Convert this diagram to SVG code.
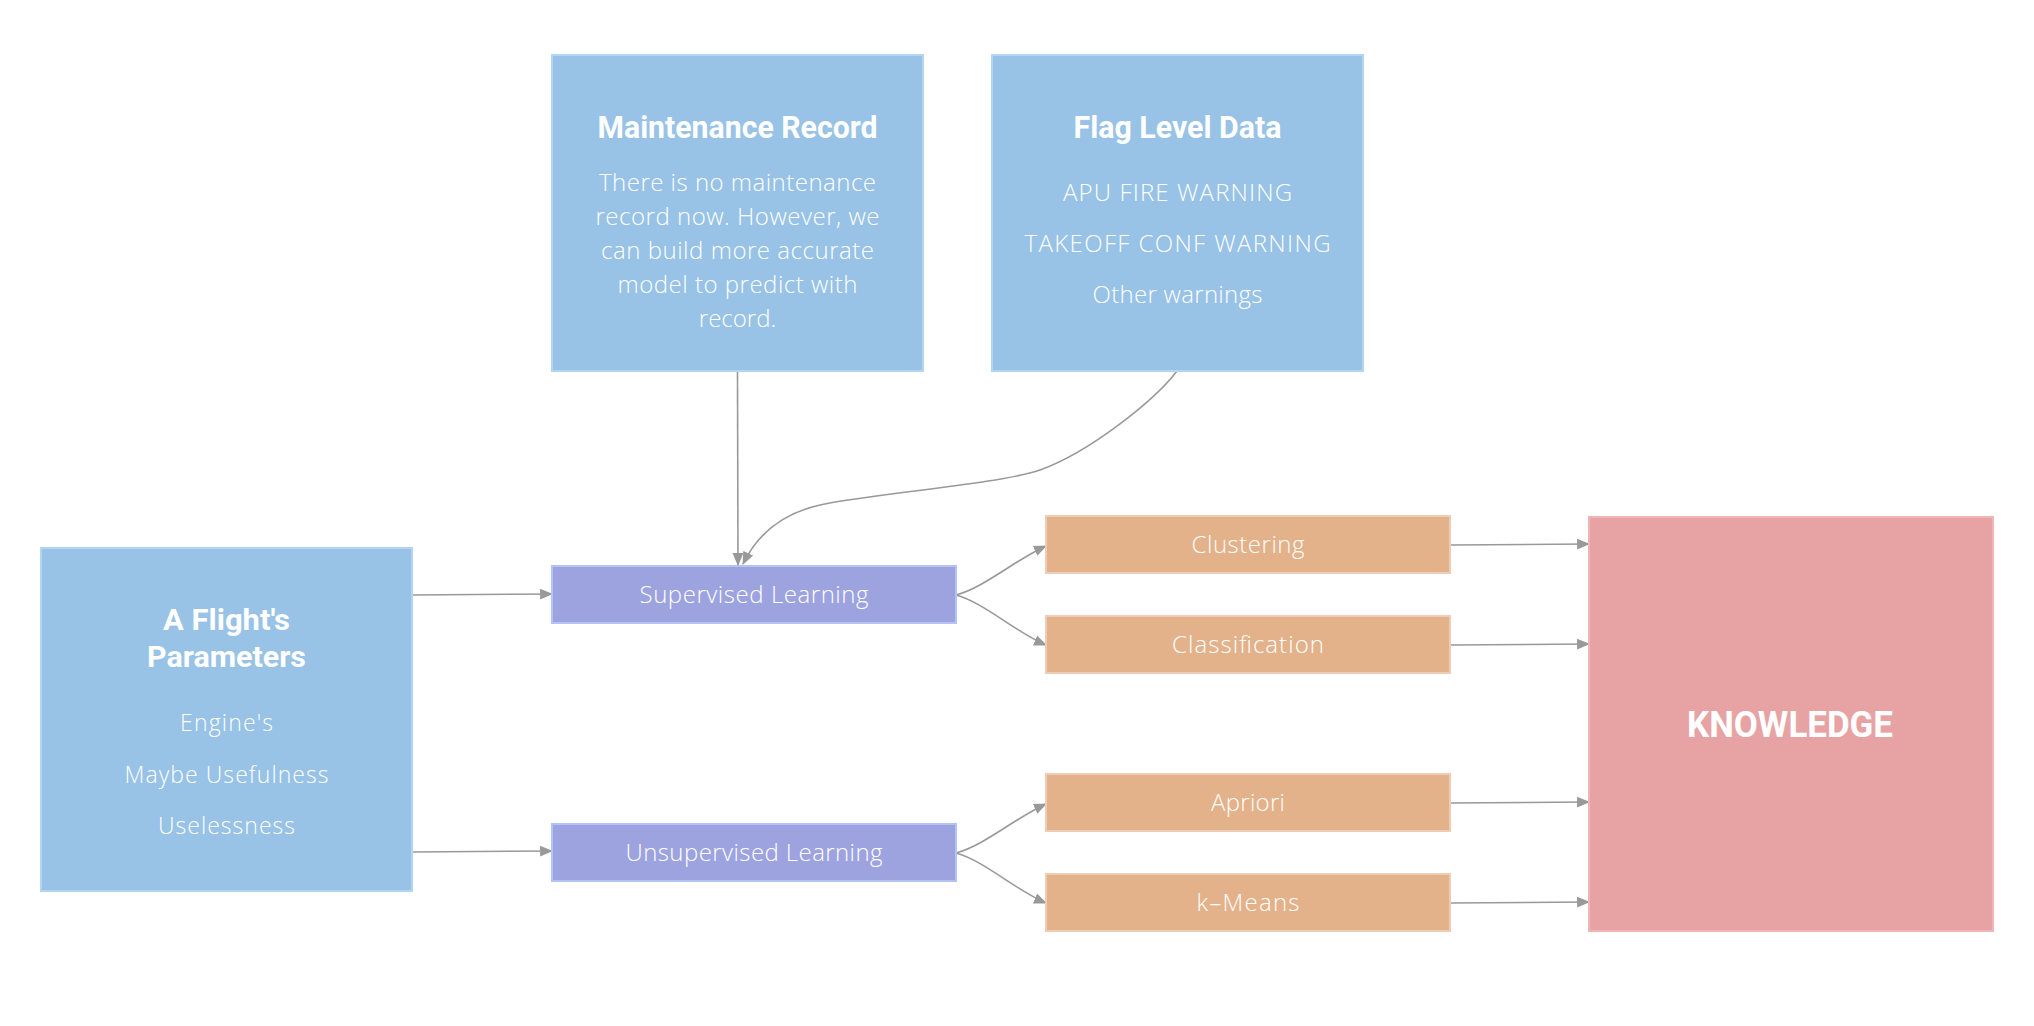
<svg xmlns="http://www.w3.org/2000/svg" width="2034" height="1026" viewBox="0 0 2034 1026">
<style>
.blue{fill:#98C3E6;stroke:#B2D5F4;stroke-width:2}
.purple{fill:#9DA3DF;stroke:#B5C2F4;stroke-width:2}
.orange{fill:#E3B28A;stroke:#EDCDB6;stroke-width:2}
.pink{fill:#E7A3A4;stroke:#F0B6B6;stroke-width:2}
text{fill:#FFFFFF;text-anchor:middle}
.t{font-family:Roboto,"Liberation Sans",sans-serif;font-weight:bold;font-size:31px}
.b{font-family:"Open Sans","Liberation Sans",sans-serif;font-weight:300;font-size:24px}
.edge{fill:none;stroke:#999999;stroke-width:1.6;marker-end:url(#arr)}
</style>
<defs>
<marker id="arr" viewBox="0 0 12 10" refX="11" refY="5" markerWidth="13" markerHeight="11" orient="auto" markerUnits="userSpaceOnUse">
<path d="M0,0 L12,5 L0,10 z" fill="#999999"/>
</marker>
</defs>
<rect width="2034" height="1026" fill="#FFFFFF"/>
<g id="edges">
<path class="edge" d="M412,595 L552,594"/>
<path class="edge" d="M412,852 L552,851"/>
<path class="edge" d="M737.5,371 L738,565"/>
<path class="edge" d="M1177,371 C1155,400 1090,452 1040,470 C1000,484 870,494 820,505 C780,514 757,535 743,564"/>
<path class="edge" d="M956,595 C985,587 1015,560 1046,546"/>
<path class="edge" d="M956,595 C985,603 1015,632 1046,645"/>
<path class="edge" d="M956,853 C985,845 1015,818 1046,804"/>
<path class="edge" d="M956,853 C985,861 1015,890 1046,903"/>
<path class="edge" d="M1450,545 L1589,544"/>
<path class="edge" d="M1450,645 L1589,644"/>
<path class="edge" d="M1450,803 L1589,802"/>
<path class="edge" d="M1450,903 L1589,902"/>
</g>
<g id="maintenance">
<rect class="blue" x="552" y="55" width="371" height="316"/>
<text class="t" x="737.5" y="138" textLength="280" lengthAdjust="spacingAndGlyphs">Maintenance Record</text>
<text class="b" x="737.5" y="191" textLength="277" lengthAdjust="spacing">There is no maintenance</text>
<text class="b" x="737.5" y="225" textLength="284" lengthAdjust="spacing">record now. However, we</text>
<text class="b" x="737.5" y="259" textLength="273" lengthAdjust="spacing">can build more accurate</text>
<text class="b" x="737.5" y="293" textLength="240" lengthAdjust="spacing">model to predict with</text>
<text class="b" x="737.5" y="327">record.</text>
</g>
<g id="flag">
<rect class="blue" x="992" y="55" width="371" height="316"/>
<text class="t" x="1177.5" y="138" textLength="208" lengthAdjust="spacingAndGlyphs">Flag Level Data</text>
<text class="b" x="1177.5" y="201" textLength="229" lengthAdjust="spacing">APU FIRE WARNING</text>
<text class="b" x="1177.5" y="252" textLength="306" lengthAdjust="spacing">TAKEOFF CONF WARNING</text>
<text class="b" x="1177.5" y="303" textLength="170" lengthAdjust="spacing">Other warnings</text>
</g>
<g id="flight">
<rect class="blue" x="41" y="548" width="371" height="343"/>
<text class="t" x="226.5" y="630" style="font-size:29px" textLength="127" lengthAdjust="spacingAndGlyphs">A Flight's</text>
<text class="t" x="226.5" y="667" style="font-size:29px" textLength="159" lengthAdjust="spacingAndGlyphs">Parameters</text>
<text class="b" x="226.5" y="731" style="font-size:23px" textLength="93" lengthAdjust="spacing">Engine's</text>
<text class="b" x="226.5" y="783" style="font-size:23px" textLength="204" lengthAdjust="spacing">Maybe Usefulness</text>
<text class="b" x="226.5" y="834" style="font-size:23px" textLength="137" lengthAdjust="spacing">Uselessness</text>
</g>
<g id="supervised">
<rect class="purple" x="552" y="566" width="404" height="57"/>
<text class="b" x="754" y="603" textLength="229" lengthAdjust="spacing">Supervised Learning</text>
</g>
<g id="unsupervised">
<rect class="purple" x="552" y="824" width="404" height="57"/>
<text class="b" x="754" y="861" textLength="257" lengthAdjust="spacing">Unsupervised Learning</text>
</g>
<g id="clustering">
<rect class="orange" x="1046" y="516" width="404" height="57"/>
<text class="b" x="1248" y="553" textLength="113" lengthAdjust="spacing">Clustering</text>
</g>
<g id="classification">
<rect class="orange" x="1046" y="616" width="404" height="57"/>
<text class="b" x="1248" y="653" textLength="152" lengthAdjust="spacing">Classification</text>
</g>
<g id="apriori">
<rect class="orange" x="1046" y="774" width="404" height="57"/>
<text class="b" x="1248" y="811" textLength="74" lengthAdjust="spacing">Apriori</text>
</g>
<g id="kmeans">
<rect class="orange" x="1046" y="874" width="404" height="57"/>
<text class="b" x="1248" y="911" textLength="103" lengthAdjust="spacing">k–Means</text>
</g>
<g id="knowledge">
<rect class="pink" x="1589" y="517" width="404" height="414"/>
<text class="t" x="1790" y="737" style="font-size:36px" textLength="206" lengthAdjust="spacingAndGlyphs">KNOWLEDGE</text>
</g>
</svg>
